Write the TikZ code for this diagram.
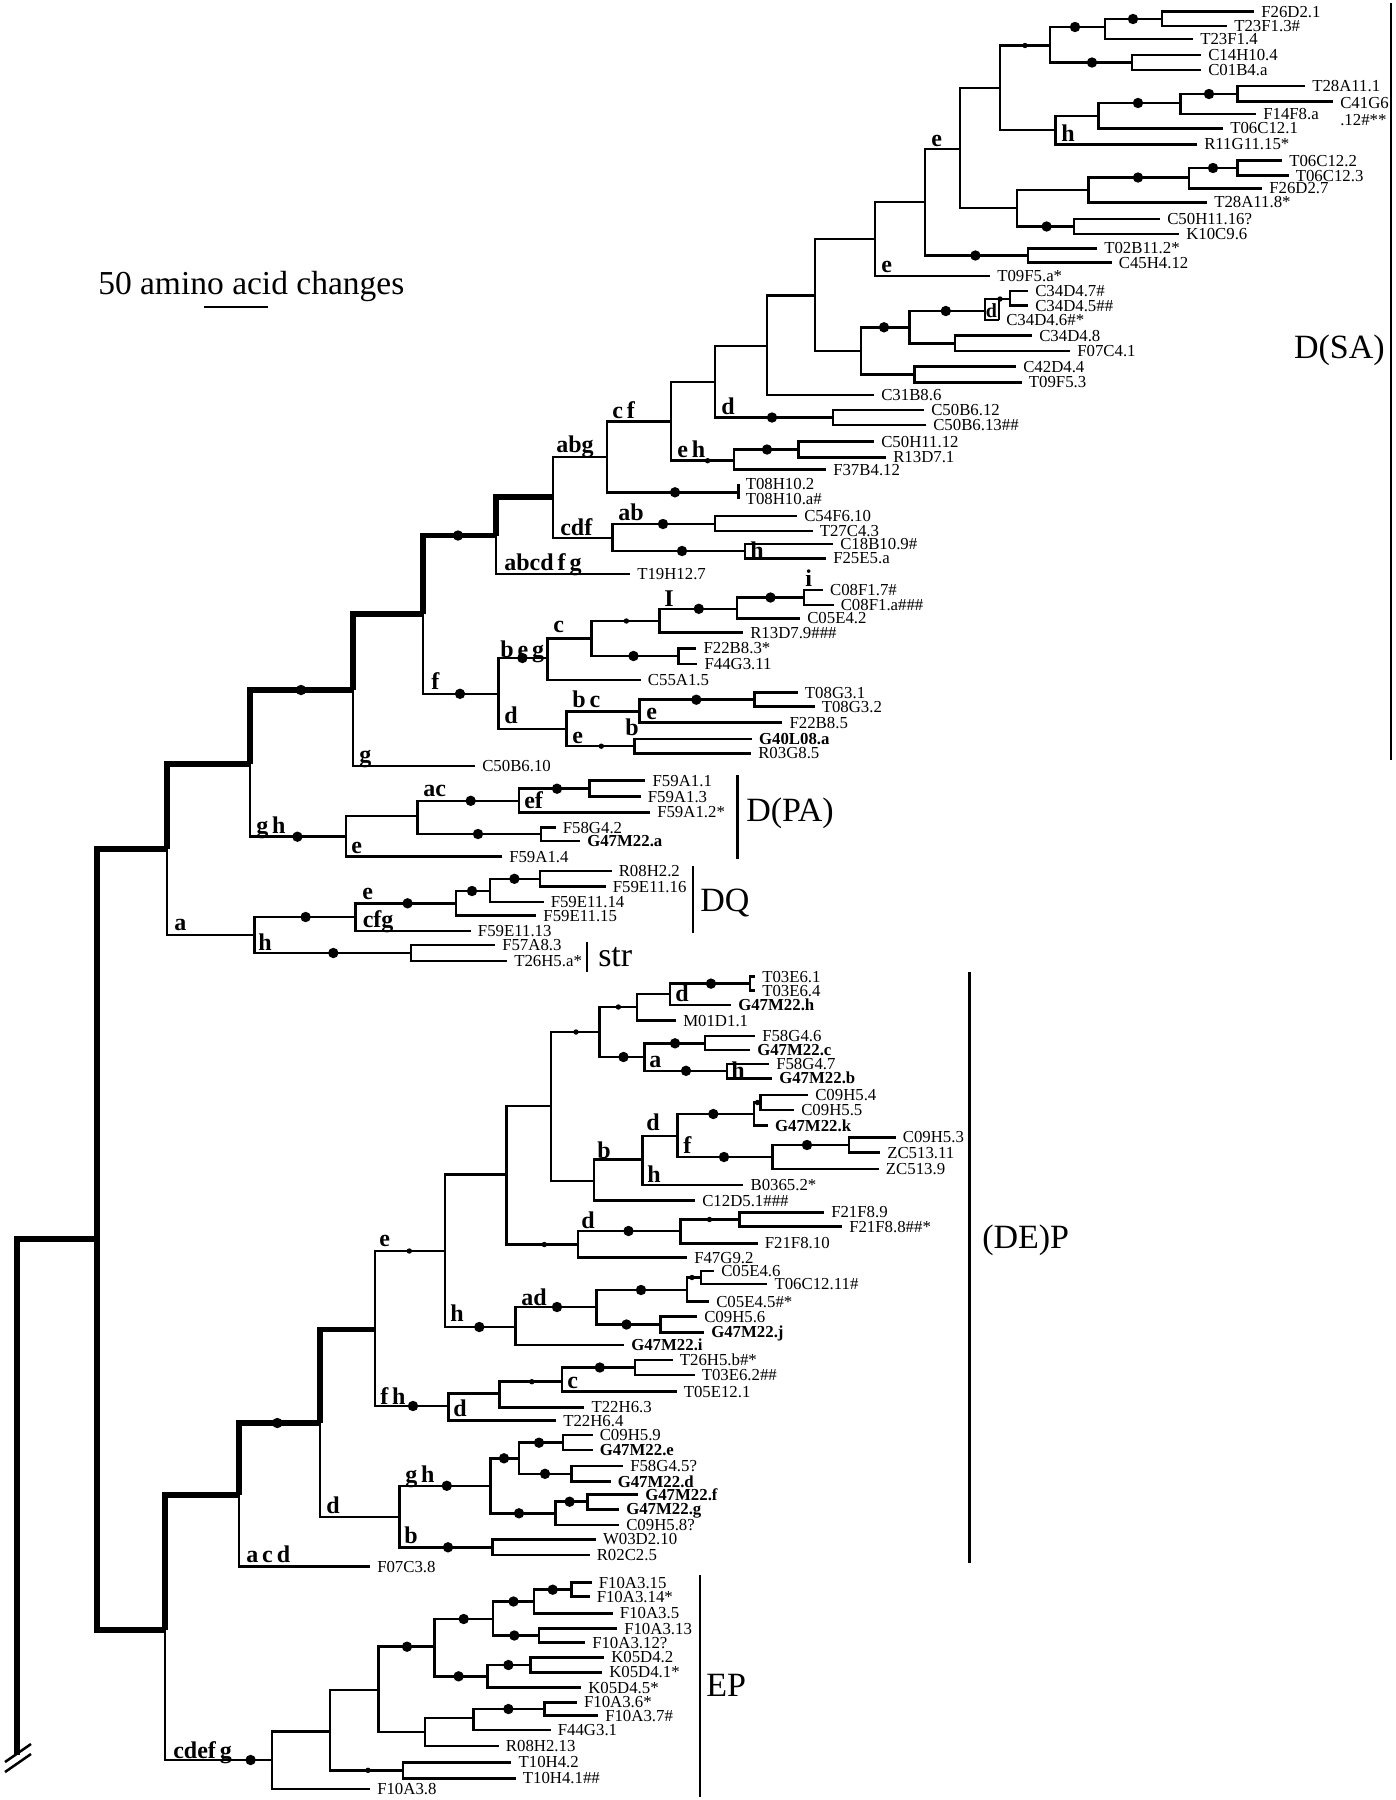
\documentclass[tikz,border=0pt]{standalone}
\usepackage{fontspec}
\setmainfont{Liberation Serif}

% fonts for the tree
\newcommand{\tipfont}{\fontsize{16.8}{16.8}\selectfont}
\newcommand{\brfont}{\fontsize{24}{26}\selectfont\bfseries}
\newcommand{\grpfont}{\fontsize{34}{36}\selectfont}
\newcommand{\barfont}{\fontsize{33.5}{35}\selectfont}

\begin{document}
\begin{tikzpicture}[x=1pt, y=-1pt, line width=2.5pt, line join=miter,
    leaf/.style={anchor=west, inner xsep=6pt, inner ysep=0pt, text height=11.1pt, text depth=0pt, font=\tipfont},
    gleaf/.style={leaf, font=\tipfont\bfseries},
    brl/.style={anchor=base west, inner sep=0pt, font=\brfont},
    grp/.style={anchor=west, inner sep=0pt, font=\grpfont},
    trunk/.style={line width=5.8pt}]

    % Define dimensions
    \def\bigr{5.2}
    \def\smallr{2.7}
    \useasboundingbox (0,0) rectangle (1396,1800);

    % Scale bar
    \node[anchor=base west, inner sep=0pt, font=\barfont] (scale) at (97,294) {50 amino acid changes};
    \draw (204,307) -- (268,307);

    % Internal nodes: trunk and D(SA)
    \coordinate (root) at (17,1755);
    \coordinate (A19) at (97,1239);
    \coordinate (A18) at (167,849);
    \coordinate (A17) at (250,764);
    \coordinate (A16) at (353,690);
    \coordinate (A15) at (423,614);
    \coordinate (A14) at (496,535.5);
    \coordinate (A13) at (553,497);
    \coordinate (A12) at (607,457);
    \coordinate (G1) at (671,421.5);
    \coordinate (A11) at (715,382);
    \coordinate (A10) at (767,346);
    \coordinate (A9) at (815,295.5);
    \coordinate (A8) at (875,239);
    \coordinate (A7) at (925,202);
    \coordinate (A6) at (960,149);
    \coordinate (A5) at (1000,88);
    \coordinate (A4) at (1050,45.5);
    \coordinate (A2) at (1105,27);
    \coordinate (A1) at (1162,19);
    \coordinate (A3) at (1132,62.5);
    \coordinate (B4) at (1055.5,130);
    \coordinate (B3) at (1098.6,116);
    \coordinate (B2) at (1180.7,103);
    \coordinate (B1) at (1237.6,94);
    \coordinate (C5) at (1017,208);
    \coordinate (C3) at (1088.5,190);
    \coordinate (C2) at (1189,177.5);
    \coordinate (C1) at (1237.6,168);
    \coordinate (C4) at (1074,226.5);
    \coordinate (D1) at (1028,255.5);
    \coordinate (E3) at (861,351);
    \coordinate (E2) at (909.6,327.3);
    \coordinate (E1) at (985,311);
    \coordinate (E0) at (1010,299);
    \coordinate (E2b) at (955,343.3);
    \coordinate (E4) at (914.4,374.5);
    \coordinate (F1) at (833,417.5);
    \coordinate (G2) at (734,460.7);
    \coordinate (G3) at (798.5,449.5);
    \coordinate (H1) at (738.5,492.3);
    \coordinate (Ia) at (612.7,538);
    \coordinate (I1) at (715,524);
    \coordinate (I2) at (745,551);
    \coordinate (K) at (498.4,693.8);
    \coordinate (K1) at (547.5,658);
    \coordinate (K2) at (591.3,638.7);
    \coordinate (K3) at (659.4,621);
    \coordinate (K4) at (736.8,608.8);
    \coordinate (K5) at (803.8,597.5);
    \coordinate (K6) at (678.3,656);
    \coordinate (K7) at (566.5,728.8);
    \coordinate (K8) at (639.6,711.3);
    \coordinate (K9) at (754.7,699.7);
    \coordinate (K10) at (634.6,746.2);
    % D(PA), DQ, str
    \coordinate (L) at (346,836.7);
    \coordinate (L1) at (417.3,816);
    \coordinate (L2) at (519,800.8);
    \coordinate (L3) at (589.6,788.7);
    \coordinate (L4) at (541,834);
    \coordinate (M) at (254.3,935);
    \coordinate (N) at (355.6,917);
    \coordinate (N1) at (456,903.3);
    \coordinate (N2) at (490,891);
    \coordinate (N3) at (540,878.8);
    \coordinate (STR) at (411,953);
    % (DE)P
    \coordinate (A20) at (165,1630);
    \coordinate (A21) at (239,1495);
    \coordinate (A22) at (320,1423);
    \coordinate (A23) at (375,1329.5);
    \coordinate (T) at (445,1251);
    \coordinate (U) at (506.7,1174.5);
    \coordinate (W) at (550.8,1106);
    \coordinate (X) at (599.4,1032);
    \coordinate (X1) at (637,1007);
    \coordinate (X2) at (644.6,1057);
    \coordinate (X3) at (670,994);
    \coordinate (X3a) at (750,983.6);
    \coordinate (X4) at (705,1043.3);
    \coordinate (X5) at (727,1070.8);
    \coordinate (Y) at (594,1181);
    \coordinate (Z) at (642.7,1159.5);
    \coordinate (Z1) at (677.7,1136);
    \coordinate (Z2) at (754,1114);
    \coordinate (Z2a) at (760.6,1102.5);
    \coordinate (Z3) at (772.4,1157);
    \coordinate (Z4) at (849.2,1145);
    \coordinate (S1) at (739.5,1219.5);
    \coordinate (S2) at (680.7,1231);
    \coordinate (S3) at (578,1244.5);
    \coordinate (V) at (515.7,1327);
    \coordinate (V1) at (596.4,1307);
    \coordinate (V2) at (687.2,1290);
    \coordinate (V3) at (700.8,1277.5);
    \coordinate (V4) at (660.5,1324.5);
    \coordinate (AA) at (448.3,1406);
    \coordinate (AB) at (499.3,1393.7);
    \coordinate (AC) at (562,1381.7);
    \coordinate (AD) at (635.2,1367.5);
    \coordinate (O) at (399.6,1517);
    \coordinate (Q) at (490.3,1485.8);
    \coordinate (Q1) at (519,1458.3);
    \coordinate (Q2) at (555.7,1513.3);
    \coordinate (Q3) at (563,1442.7);
    \coordinate (Q4) at (571.7,1473.8);
    \coordinate (Q5) at (587.3,1501.7);
    \coordinate (R) at (492.4,1547.3);
    % EP
    \coordinate (P1) at (272,1760);
    \coordinate (P2) at (330,1731.3);
    \coordinate (P3) at (378.5,1690);
    \coordinate (P4) at (403,1770.3);
    \coordinate (P5) at (434.6,1646.7);
    \coordinate (P6) at (425,1732);
    \coordinate (P7) at (473.4,1718);
    \coordinate (P8) at (544.3,1709);
    \coordinate (P9) at (493.2,1619);
    \coordinate (P10) at (487.3,1676.3);
    \coordinate (P11) at (533.8,1601.5);
    \coordinate (P12) at (538.8,1635.5);
    \coordinate (P13) at (571.7,1589.7);
    \coordinate (P14) at (530.4,1665);

    % Leaves D(SA)
    \node[leaf] (F26D2-1) at (1254,11.7) {F26D2.1};
    \node[leaf] (T23F1-3) at (1227,26) {T23F1.3\#};
    \node[leaf] (T23F1-4) at (1193,39) {T23F1.4};
    \node[leaf] (C14H10-4) at (1201,55) {C14H10.4};
    \node[leaf] (C01B4-a) at (1201,70) {C01B4.a};
    \node[leaf] (T28A11-1) at (1305,86) {T28A11.1};
    \coordinate (C41G6-12) at (1333,101.7);
    \node[anchor=north west, inner xsep=6pt, inner ysep=0pt, font=\tipfont, align=left] (C41G6lab) at ([yshift=5.8pt]C41G6-12) {C41G6\\.12\#**};
    \node[leaf] (F14F8-a) at (1256,114) {F14F8.a};
    \node[leaf] (T06C12-1) at (1223,128.3) {T06C12.1};
    \node[leaf] (R11G11-15) at (1197,144.3) {R11G11.15*};
    \node[leaf] (T06C12-2) at (1282,160.7) {T06C12.2};
    \node[leaf] (T06C12-3) at (1288.5,175.7) {T06C12.3};
    \node[leaf] (F26D2-7) at (1262,188.3) {F26D2.7};
    \node[leaf] (T28A11-8) at (1207,202.3) {T28A11.8*};
    \node[leaf] (C50H11-16) at (1160,219) {C50H11.16?};
    \node[leaf] (K10C9-6) at (1179,234) {K10C9.6};
    \node[leaf] (T02B11-2) at (1097,248.3) {T02B11.2*};
    \node[leaf] (C45H4-12) at (1111.6,262.7) {C45H4.12};
    \node[leaf] (T09F5-a) at (990,276) {T09F5.a*};
    \node[leaf] (C34D4-7) at (1028,291) {C34D4.7\#};
    \node[leaf] (C34D4-5) at (1028,305.5) {C34D4.5\#\#};
    \node[leaf] (C34D4-6) at (999,320) {C34D4.6\#*};
    \node[leaf] (C34D4-8) at (1032,335.7) {C34D4.8};
    \node[leaf] (F07C4-1) at (1070,351) {F07C4.1};
    \node[leaf] (C42D4-4) at (1016,366.7) {C42D4.4};
    \node[leaf] (T09F5-3) at (1021.6,382.3) {T09F5.3};
    \node[leaf] (C31B8-6) at (874,395) {C31B8.6};
    \node[leaf] (C50B6-12) at (924,410) {C50B6.12};
    \node[leaf] (C50B6-13) at (926,425) {C50B6.13\#\#};
    \node[leaf] (C50H11-12) at (874,441.7) {C50H11.12};
    \node[leaf] (R13D7-1) at (886,457.3) {R13D7.1};
    \node[leaf] (F37B4-12) at (826,469.5) {F37B4.12};
    \node[leaf] (T08H10-2) at (738.5,484) {T08H10.2};
    \node[leaf] (T08H10-a) at (738.5,499) {T08H10.a\#};
    \node[leaf] (C54F6-10) at (797,516) {C54F6.10};
    \node[leaf] (T27C4-3) at (812.5,531) {T27C4.3};
    \node[leaf] (C18B10-9) at (833,544) {C18B10.9\#};
    \node[leaf] (F25E5-a) at (826,558.3) {F25E5.a};
    \node[leaf] (T19H12-7) at (630,574) {T19H12.7};
    \node[leaf] (C08F1-7) at (822.8,590) {C08F1.7\#};
    \node[leaf] (C08F1-a) at (833.5,605) {C08F1.a\#\#\#};
    \node[leaf] (C05E4-2) at (800,618.3) {C05E4.2};
    \node[leaf] (R13D7-9) at (743,632.7) {R13D7.9\#\#\#};
    \node[leaf] (F22B8-3) at (696.3,648.3) {F22B8.3*};
    \node[leaf] (F44G3-11) at (697.3,664) {F44G3.11};
    \node[leaf] (C55A1-5) at (640.7,680) {C55A1.5};
    \node[leaf] (T08G3-1) at (797.7,692.7) {T08G3.1};
    \node[leaf] (T08G3-2) at (814.5,706.7) {T08G3.2};
    \node[leaf] (F22B8-5) at (782.3,722.7) {F22B8.5};
    \node[gleaf] (G40L08-a) at (751.8,739) {G40L08.a};
    \node[leaf] (R03G8-5) at (751,753.3) {R03G8.5};
    \node[leaf] (C50B6-10) at (475,766) {C50B6.10};
    % Leaves D(PA), DQ, str
    \node[leaf] (F59A1-1) at (645.4,780.7) {F59A1.1};
    \node[leaf] (F59A1-3) at (640.6,796.7) {F59A1.3};
    \node[leaf] (F59A1-2) at (650,812.3) {F59A1.2*};
    \node[leaf] (F58G4-2) at (555.6,827.5) {F58G4.2};
    \node[gleaf] (G47M22-a) at (580,841) {G47M22.a};
    \node[leaf] (F59A1-4) at (502,856.7) {F59A1.4};
    \node[leaf] (R08H2-2) at (611.5,871) {R08H2.2};
    \node[leaf] (F59E11-16) at (605.6,886.7) {F59E11.16};
    \node[leaf] (F59E11-14) at (543.5,902) {F59E11.14};
    \node[leaf] (F59E11-15) at (536.2,915.5) {F59E11.15};
    \node[leaf] (F59E11-13) at (470.7,931) {F59E11.13};
    \node[leaf] (F57A8-3) at (495,945) {F57A8.3};
    \node[leaf] (T26H5-a) at (507,961) {T26H5.a*};
    % Leaves (DE)P
    \node[leaf] (T03E6-1) at (755,976.5) {T03E6.1};
    \node[leaf] (T03E6-4) at (755,990.5) {T03E6.4};
    \node[gleaf] (G47M22-h) at (731,1005) {G47M22.h};
    \node[leaf] (M01D1-1) at (676,1020.7) {M01D1.1};
    \node[leaf] (F58G4-6) at (755,1036) {F58G4.6};
    \node[gleaf] (G47M22-c) at (750,1050.2) {G47M22.c};
    \node[leaf] (F58G4-7) at (769,1063.8) {F58G4.7};
    \node[gleaf] (G47M22-b) at (772,1078.3) {G47M22.b};
    \node[leaf] (C09H5-4) at (808,1095) {C09H5.4};
    \node[leaf] (C09H5-5) at (794,1110) {C09H5.5};
    \node[gleaf] (G47M22-k) at (767.8,1125.7) {G47M22.k};
    \node[leaf] (C09H5-3) at (895.6,1137.3) {C09H5.3};
    \node[leaf] (ZC513-11) at (880,1152.7) {ZC513.11};
    \node[leaf] (ZC513-9) at (878.7,1169) {ZC513.9};
    \node[leaf] (B0365-2) at (743.3,1185) {B0365.2*};
    \node[leaf] (C12D5-1) at (695,1200.7) {C12D5.1\#\#\#};
    \node[leaf] (F21F8-9) at (824,1212.3) {F21F8.9};
    \node[leaf] (F21F8-8) at (842,1226.7) {F21F8.8\#\#*};
    \node[leaf] (F21F8-10) at (757.6,1243.3) {F21F8.10};
    \node[leaf] (F47G9-2) at (687,1257.5) {F47G9.2};
    \node[leaf] (C05E4-6) at (714,1271) {C05E4.6};
    \node[leaf] (T06C12-11) at (767.3,1284) {T06C12.11\#};
    \node[leaf] (C05E4-5) at (709,1301.7) {C05E4.5\#*};
    \node[leaf] (C09H5-6) at (697,1316.7) {C09H5.6};
    \node[gleaf] (G47M22-j) at (704,1332.3) {G47M22.j};
    \node[gleaf] (G47M22-i) at (624,1345) {G47M22.i};
    \node[leaf] (T26H5-b) at (672.6,1360) {T26H5.b\#*};
    \node[leaf] (T03E6-2) at (694.5,1375) {T03E6.2\#\#};
    \node[leaf] (T05E12-1) at (676.5,1391.7) {T05E12.1};
    \node[leaf] (T22H6-3) at (584.3,1407.3) {T22H6.3};
    \node[leaf] (T22H6-4) at (556,1420.5) {T22H6.4};
    \node[leaf] (C09H5-9) at (592.5,1435) {C09H5.9};
    \node[gleaf] (G47M22-e) at (592.5,1450) {G47M22.e};
    \node[leaf] (F58G4-5) at (623,1466) {F58G4.5?};
    \node[gleaf] (G47M22-d) at (610.5,1481.7) {G47M22.d};
    \node[gleaf] (G47M22-f) at (638,1494.5) {G47M22.f};
    \node[gleaf] (G47M22-g) at (619,1509.3) {G47M22.g};
    \node[leaf] (C09H5-8) at (619,1525) {C09H5.8?};
    \node[leaf] (W03D2-10) at (595.8,1539.3) {W03D2.10};
    \node[leaf] (R02C2-5) at (589.5,1555) {R02C2.5};
    \node[leaf] (F07C3-8) at (370,1566.7) {F07C3.8};
    % Leaves EP
    \node[leaf] (F10A3-15) at (591.6,1582.7) {F10A3.15};
    \node[leaf] (F10A3-14) at (589.5,1596.7) {F10A3.14*};
    \node[leaf] (F10A3-5) at (612.7,1613.3) {F10A3.5};
    \node[leaf] (F10A3-13) at (617,1628.5) {F10A3.13};
    \node[leaf] (F10A3-12) at (585,1642.5) {F10A3.12?};
    \node[leaf] (K05D4-2) at (604,1657.3) {K05D4.2};
    \node[leaf] (K05D4-1) at (602,1672.3) {K05D4.1*};
    \node[leaf] (K05D4-5) at (581,1687.7) {K05D4.5*};
    \node[leaf] (F10A3-6) at (576.8,1702.3) {F10A3.6*};
    \node[leaf] (F10A3-7) at (598,1715.7) {F10A3.7\#};
    \node[leaf] (F44G3-1) at (550.6,1730) {F44G3.1};
    \node[leaf] (R08H2-13) at (498.7,1746) {R08H2.13};
    \node[leaf] (T10H4-2) at (511.4,1762.3) {T10H4.2};
    \node[leaf] (T10H4-1) at (515.6,1778.3) {T10H4.1\#\#};
    \node[leaf] (F10A3-8) at (370,1789) {F10A3.8};

    % Thick backbone
    \draw[trunk] (root) |- (A19);
    \foreach \p/\c in {A19/A18, A19/A20, A18/A17, A17/A16, A16/A15, A15/A14, A14/A13,
                       A20/A21, A21/A22, A22/A23}
        \draw[trunk] (\p) |- (\c);

    % Branches between internal nodes
    \foreach \p/\c in {A18/M, A17/L, A15/K, A13/A12, A13/Ia, A12/G1, A12/H1, G1/A11, G1/G2,
                       A11/A10, A11/F1, A10/A9, A9/A8, A9/E3, A8/A7, A7/A6, A7/D1, A6/A5, A6/C5,
                       A5/A4, A5/B4, A4/A2, A4/A3, A2/A1, B4/B3, B3/B2, B2/B1, C5/C3, C5/C4,
                       C3/C2, C2/C1, E3/E2, E3/E4, E2/E1, E2/E2b, E1/E0, G2/G3, Ia/I1, Ia/I2,
                       K/K1, K/K7, K1/K2, K2/K3, K2/K6, K3/K4, K4/K5, K7/K8, K7/K10, K8/K9,
                       L/L1, L1/L2, L1/L4, L2/L3, M/N, M/STR, N/N1, N1/N2, N2/N3,
                       A20/P1, A22/O, A23/T, A23/AA, T/U, T/V, U/W, U/S3, W/X, W/Y,
                       X/X1, X/X2, X1/X3, X3/X3a, X2/X4, X2/X5, Y/Z, Z/Z1, Z1/Z2, Z1/Z3,
                       Z2/Z2a, Z3/Z4, S3/S2, S2/S1, V/V1, V1/V2, V1/V4, V2/V3, AA/AB, AB/AC,
                       AC/AD, O/Q, O/R, Q/Q1, Q/Q2, Q1/Q3, Q1/Q4, Q2/Q5, P1/P2, P2/P3, P2/P4,
                       P3/P5, P3/P6, P5/P9, P5/P10, P9/P11, P9/P12, P11/P13, P10/P14, P6/P7, P7/P8}
        \draw (\p) |- (\c);

    % Branches to leaves
    \foreach \p/\c in {A1/F26D2-1, A1/T23F1-3, A2/T23F1-4, A3/C14H10-4, A3/C01B4-a, B1/T28A11-1,
                       B2/F14F8-a, B3/T06C12-1, B4/R11G11-15, C1/T06C12-2, C1/T06C12-3,
                       C2/F26D2-7, C3/T28A11-8, C4/C50H11-16, C4/K10C9-6, D1/T02B11-2,
                       D1/C45H4-12, A8/T09F5-a, E0/C34D4-7, E0/C34D4-5, E1/C34D4-6,
                       E2b/C34D4-8, E2b/F07C4-1, E4/C42D4-4, E4/T09F5-3, A10/C31B8-6,
                       F1/C50B6-12, F1/C50B6-13, G3/C50H11-12, G3/R13D7-1, G2/F37B4-12,
                       H1/T08H10-2, H1/T08H10-a, I1/C54F6-10, I1/T27C4-3, I2/C18B10-9,
                       I2/F25E5-a, A14/T19H12-7, K5/C08F1-7, K5/C08F1-a, K4/C05E4-2,
                       K3/R13D7-9, K6/F22B8-3, K6/F44G3-11, K1/C55A1-5, K9/T08G3-1,
                       K9/T08G3-2, K8/F22B8-5, K10/G40L08-a, K10/R03G8-5, A16/C50B6-10,
                       L3/F59A1-1, L3/F59A1-3, L2/F59A1-2, L4/F58G4-2, L4/G47M22-a, L/F59A1-4,
                       N3/R08H2-2, N3/F59E11-16, N2/F59E11-14, N1/F59E11-15, N/F59E11-13,
                       STR/F57A8-3, STR/T26H5-a, X3a/T03E6-1, X3a/T03E6-4, X3/G47M22-h,
                       X1/M01D1-1, X4/F58G4-6, X4/G47M22-c, X5/F58G4-7, X5/G47M22-b,
                       Z2a/C09H5-4, Z2a/C09H5-5, Z2/G47M22-k, Z4/C09H5-3, Z4/ZC513-11,
                       Z3/ZC513-9, Z/B0365-2, Y/C12D5-1, S1/F21F8-9, S1/F21F8-8, S2/F21F8-10,
                       S3/F47G9-2, V3/C05E4-6, V3/T06C12-11, V2/C05E4-5, V4/C09H5-6,
                       V4/G47M22-j, V/G47M22-i, AD/T26H5-b, AD/T03E6-2, AC/T05E12-1,
                       AB/T22H6-3, AA/T22H6-4, Q3/C09H5-9, Q3/G47M22-e, Q4/F58G4-5,
                       Q4/G47M22-d, Q5/G47M22-f, Q5/G47M22-g, Q2/C09H5-8, R/W03D2-10,
                       R/R02C2-5, A21/F07C3-8, P13/F10A3-15, P13/F10A3-14, P11/F10A3-5,
                       P12/F10A3-13, P12/F10A3-12, P14/K05D4-2, P14/K05D4-1, P10/K05D4-5,
                       P8/F10A3-6, P8/F10A3-7, P7/F44G3-1, P6/R08H2-13, P4/T10H4-2,
                       P4/T10H4-1, P1/F10A3-8}
        \draw (\p) |- (\c.west);
    \draw (B1) |- (C41G6-12);
    \draw (C34D4-6.west) -- ++(0,-21);

    % Break marks on the root
    \draw (5,1762) -- (31,1744);
    \draw (5,1772) -- (31,1754);

    % Bootstrap dots
    \foreach \x/\y in {1133/19, 1075/27, 1092/62.5, 1209/94, 1138/103, 1213/168, 1138/177.5,
                       1046.6/226.5, 975.4/255.5, 884/327.3, 945.8/311, 772/417.5, 767/449.5,
                       675/492.3, 663/524, 682/551, 458/535.5, 460/693.8, 522.4/658, 698.8/608.8,
                       770.5/597.5, 633.5/656, 696.3/699.7, 301/690, 297.4/836.7, 470.7/800.8,
                       557/788.7, 478/834, 305.6/917, 407.6/903.3, 472/891, 514.4/878.8,
                       333.3/953, 711/983.6, 623.5/1057, 675/1043.3, 686/1070.8, 713.3/1114,
                       724/1157, 807/1145, 628.5/1231, 479.3/1327, 557/1307, 641/1290,
                       626.5/1324.5, 413/1406, 599.8/1367.5, 277.3/1423, 446.8/1485.8,
                       504/1458.3, 539/1442.7, 545/1473.8, 519/1513.3, 569.6/1501.7,
                       448/1547.3, 250.6/1760, 407/1646.7, 463.7/1619, 458.6/1676.3,
                       513.5/1601.5, 514.3/1635.5, 552.7/1589.7, 508.4/1665, 508.4/1709}
        \fill (\x,\y) circle (\bigr);
    \foreach \x/\y in {1025/45.5, 1000/299, 707.6/460.7, 626.4/621, 601.3/746.2, 576/1032,
                       618.4/1007, 757.5/1102.5, 544.3/1244.5, 709.5/1219.5, 409.3/1251,
                       692/1277.5, 531.8/1381.7, 368/1770.3}
        \fill (\x,\y) circle (\smallr);

    % Branch labels
    \node[brl] (bA6) at (930,146) {e};
    \node[brl] (bB4) at (1060,141) {h};
    \node[brl] (bA8) at (880,272) {e};
    \node[brl, anchor=center, font=\fontsize{20}{21}\selectfont\bfseries] (bE1) at (991.5,311) {d};
    \node[brl] (bF1) at (720,414.5) {d};
    \node[brl] (bG2) at (676,457) {e\,h};
    \node[brl] (bG1) at (611,418) {c\,f};
    \node[brl] (bA12) at (555,452) {abg};
    \node[brl] (bIa) at (559,535.5) {cdf};
    \node[brl] (bI1) at (617,520.5) {ab};
    \node[brl] (bI2) at (749,558) {h};
    \node[brl] (bA14) at (503,570) {abcd\,f\,g};
    \node[brl] (bK3) at (663,606) {I};
    \node[brl] (bK5) at (804,586) {i};
    \node[brl] (bK2) at (552,632) {c};
    \node[brl] (bK1) at (499,657) {b\,e\,g};
    \node[brl] (bK) at (430,689) {f};
    \node[brl] (bK7) at (503,723) {d};
    \node[brl] (bK8) at (571,707) {b\,c};
    \node[brl] (bK7e) at (571,743) {e};
    \node[brl] (bK8e) at (645,719) {e};
    \node[brl] (bK10) at (624,735) {b};
    \node[brl] (bA16) at (358,762) {g};
    \node[brl] (bL) at (255,833) {g\,h};
    \node[brl] (bL1) at (422,796) {ac};
    \node[brl] (bL2) at (523,808.5) {ef};
    \node[brl] (bLe) at (350,853) {e};
    \node[brl] (bA18) at (173,930) {a};
    \node[brl] (bM) at (257,950) {h};
    \node[brl] (bN) at (361,899.5) {e};
    \node[brl] (bNc) at (361.5,927) {cfg};
    \node[brl] (bX3) at (674,1001) {d};
    \node[brl] (bX2) at (648,1067) {a};
    \node[brl] (bX5) at (730,1078) {h};
    \node[brl] (bZ) at (645,1130) {d};
    \node[brl] (bZ1) at (682,1153) {f};
    \node[brl] (bZh) at (646,1182) {h};
    \node[brl] (bY) at (596,1158) {b};
    \node[brl] (bS3) at (580,1228) {d};
    \node[brl] (bT) at (378,1246) {e};
    \node[brl] (bV) at (449,1321) {h};
    \node[brl] (bV1) at (520,1305) {ad};
    \node[brl] (bAC) at (566,1388) {c};
    \node[brl] (bAA) at (379,1404.5) {f\,h};
    \node[brl] (bAAd) at (452,1416) {d};
    \node[brl] (bQ) at (404,1482) {g\,h};
    \node[brl] (bR) at (403,1543.5) {b};
    \node[brl] (bO) at (325,1513) {d};
    \node[brl] (bA21) at (245,1562) {a\,c\,d};
    \node[brl] (bP1) at (172,1758) {cdef\,g};

    % Clade bars and names
    \foreach \x/\ya/\yb in {1391/3/760, 737.7/775/859.3, 693/866/933.3, 587/941.7/971.7,
                            969.5/972/1563, 700/1575/1797}
        \draw (\x,\ya) -- (\x,\yb);
    \node[grp, anchor=east] (dsa) at (1386,350) {D(SA)};
    \node[grp] (dpa) at (745,813) {D(PA)};
    \node[grp] (dq) at (699,903) {DQ};
    \node[grp] (strl) at (597,957) {str};
    \node[grp] (dep) at (981,1240) {(DE)P};
    \node[grp] (ep) at (705,1685) {EP};

\end{tikzpicture}
\end{document}
